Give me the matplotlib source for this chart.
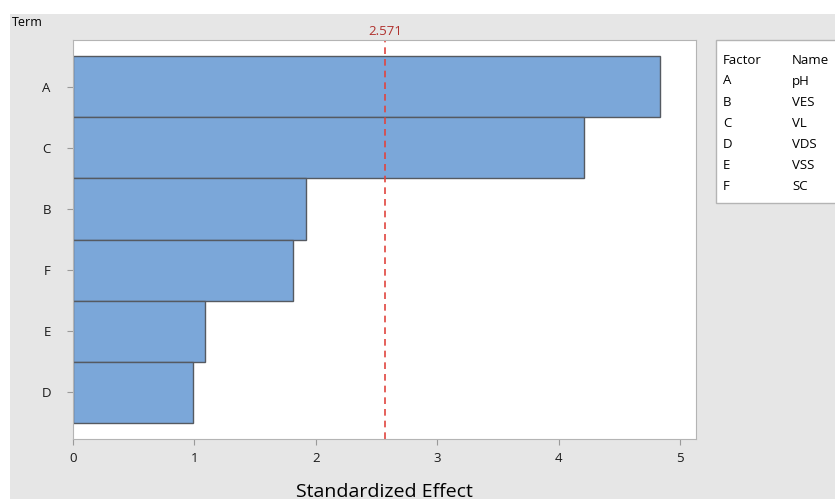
import matplotlib.pyplot as plt
from matplotlib.patches import Rectangle

plt.rcParams['font.family'] = ['Open Sans', 'DejaVu Sans']

# data (top to bottom as drawn)
terms = ["A", "C", "B", "F", "E", "D"]
effects = [4.83, 4.21, 1.92, 1.81, 1.09, 0.99]
critical = 2.571
factors = ["A", "B", "C", "D", "E", "F"]
names = ["pH", "VES", "VL", "VDS", "VSS", "SC"]

W, H = 835, 499
fig = plt.figure(figsize=(W / 100, H / 100), dpi=100)
fig.patch.set_facecolor("white")

# gray panel behind everything
fig.patches.append(Rectangle((10 / W, 0), 1, 1 - 14 / H, transform=fig.transFigure,
                             facecolor="#e6e6e6", edgecolor="none", zorder=-10))

ax = fig.add_axes([73 / W, 1 - 439 / H, (696 - 73) / W, (439 - 40) / H])
ax.set_facecolor("white")

ypos = list(range(len(terms)))
ax.barh(ypos, effects, height=1.0, color="#7ba7d9", edgecolor="#555a61", linewidth=1.0)
ax.set_ylim(5.76, -0.76)
ax.set_xlim(0, 5.13)
ax.set_yticks(ypos)
ax.set_yticklabels(terms)
ax.set_xticks([0, 1, 2, 3, 4, 5])

ax.axvline(critical, color="#e0453f", linestyle=(0, (4, 3)), linewidth=1.2)
ax.text(critical, 1.005, f"{critical}", transform=ax.get_xaxis_transform(),
        ha="center", va="bottom", color="#b0302c", fontsize=9.5)

for s in ax.spines.values():
    s.set_color("#b4b4b4")
ax.tick_params(axis="both", colors="#9a9a9a", labelcolor="#1a1a1a", labelsize=9.5, length=4)
ax.tick_params(axis="y", pad=12)
ax.tick_params(axis="x", pad=5)
ax.set_xlabel("Standardized Effect", fontsize=14, labelpad=13)

fig.text(12 / W, 1 - 22 / H, "Term", fontsize=9, va="center", ha="left")

# factor/name legend box
fig.patches.append(Rectangle((716 / W, 1 - 203 / H), (840 - 716) / W, (203 - 40) / H,
                             transform=fig.transFigure, facecolor="white",
                             edgecolor="#b4b4b4", linewidth=1.0, zorder=5))
fig.text(723 / W, 1 - 60 / H, "Factor", fontsize=9.5, va="center", zorder=6)
fig.text(792 / W, 1 - 60 / H, "Name", fontsize=9.5, va="center", zorder=6)
for i, (f, n) in enumerate(zip(factors, names)):
    y = 81 + i * 21.2
    fig.text(723 / W, 1 - y / H, f, fontsize=9.5, va="center", zorder=6)
    fig.text(792 / W, 1 - y / H, n, fontsize=9.5, va="center", zorder=6)

fig.savefig("out.png", dpi=100)
